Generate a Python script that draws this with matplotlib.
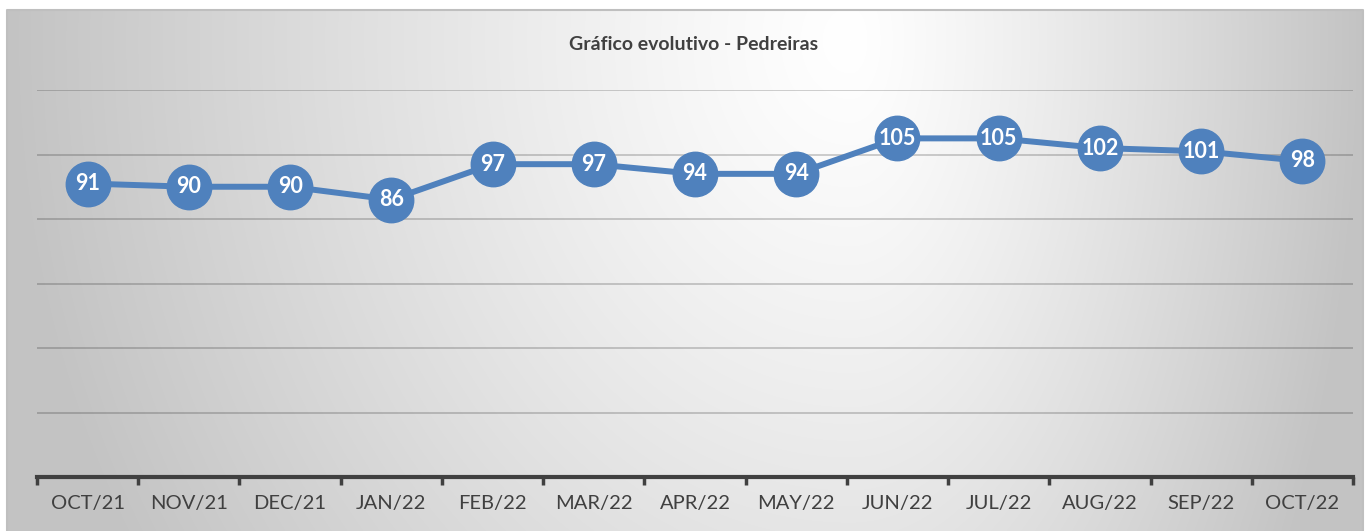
import numpy as np
import matplotlib.pyplot as plt

plt.rcParams['font.family'] = ['Lato', 'DejaVu Sans']

# dados do gráfico
meses = ["OCT/21", "NOV/21", "DEC/21", "JAN/22", "FEB/22", "MAR/22", "APR/22",
         "MAY/22", "JUN/22", "JUL/22", "AUG/22", "SEP/22", "OCT/22"]
valores = [91, 90, 90, 86, 97, 97, 94, 94, 105, 105, 102, 101, 98]
titulo = "Gráfico evolutivo - Pedreiras"

W, H = 1371, 531
fig = plt.figure(figsize=(W / 100, H / 100), dpi=100)
fig.patch.set_facecolor("white")

# fundo com gradiente radial (área do gráfico)
x0, x1, y0, y1 = 7, 1363, 10, 531
cx, cy = 850, 40
xs = np.arange(x0, x1)
ys = np.arange(y0, y1)
X, Y = np.meshgrid(xs, ys)
sx = np.where(X < cx, cx - x0, x1 - cx)
r = np.sqrt(((X - cx) / sx) ** 2 + ((Y - cy) / 1000) ** 2)
r = np.clip(r, 0, 1) ** 1.2
g = (255 - 60 * r) / 255
bg = fig.add_axes([0, 0, 1, 1], zorder=0)
bg.imshow(np.dstack([g, g, g]), extent=(x0, x1, H - y1, H - y0), aspect="auto")
bg.plot([x0, x0, x1, x1], [0, H - y0, H - y0, 0], color="#bfbfbf", lw=1.5)
bg.set_xlim(0, W)
bg.set_ylim(0, H)
bg.axis("off")

ax = fig.add_axes([37 / W, 54 / H, (1353 - 37) / W, (477 - 90) / H], zorder=1)
ax.patch.set_alpha(0)
x = np.arange(len(meses))
ax.plot(x, valores, color="#4F81BD", lw=4.3, marker="o", markersize=32,
        markerfacecolor="#4F81BD", markeredgecolor="#4F81BD", zorder=3)
for xi, v in zip(x, valores):
    ax.text(xi, v, str(v), ha="center", va="center", color="white",
            fontsize=15.5, fontweight="bold", zorder=4)

ax.set_xlim(-0.5, len(meses) - 0.5)
ax.set_ylim(0, 120)
ax.set_yticks([20, 40, 60, 80, 100, 120])
ax.yaxis.grid(True, color="black", alpha=0.2, lw=1.3)
ax.set_axisbelow(True)
ax.tick_params(axis="y", left=False, labelleft=False)
ax.set_xticks(x)
ax.set_xticklabels(meses, fontsize=14.5, color="#404040")
ax.set_xticks(np.arange(-0.5, len(meses)), minor=True)
ax.tick_params(axis="x", which="major", length=0, pad=13)
ax.tick_params(axis="x", which="minor", length=6, width=2.5, color="#404040")
for s in ["top", "right", "left"]:
    ax.spines[s].set_visible(False)
ax.spines["bottom"].set_color("#404040")
ax.spines["bottom"].set_linewidth(3)

fig.text(694 / W, 1 - 45 / H, titulo, ha="center", va="center",
         fontsize=14, fontweight="bold", color="#404040")

fig.savefig("out.png", dpi=100)
